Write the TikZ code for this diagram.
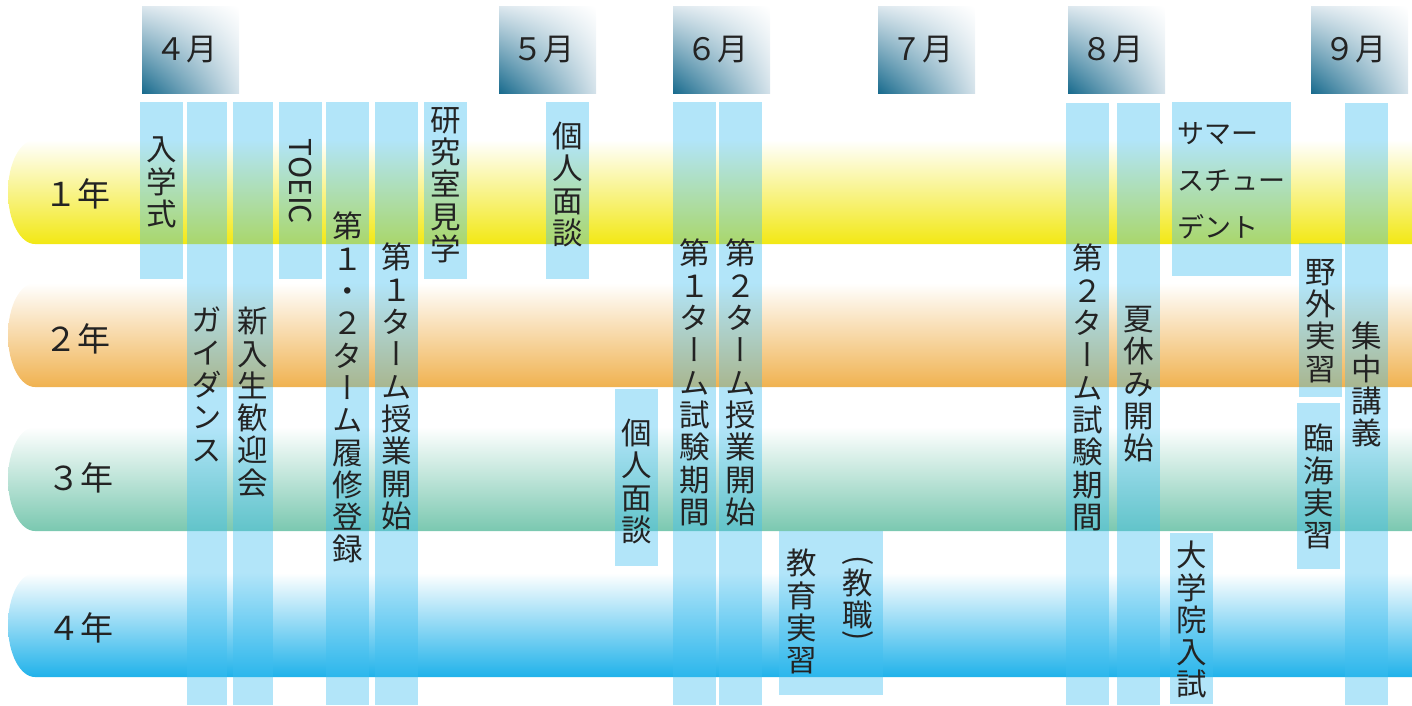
\documentclass[tikz,border=0pt]{standalone}
\usepackage{fontspec}
\usepackage{graphicx}
\usetikzlibrary{shadings}
\setmainfont{Noto Sans CJK JP}
\newfontfamily\vjp[RawFeature=+vert]{Noto Sans CJK JP}
\definecolor{txt}{RGB}{35,35,35}
\definecolor{barc}{RGB}{62,190,240}
\definecolor{yel}{RGB}{242,232,20}
\definecolor{org}{RGB}{240,178,80}
\definecolor{tea}{RGB}{122,200,176}
\definecolor{blu}{RGB}{32,178,234}
\definecolor{mdark}{RGB}{22,105,140}
\definecolor{mmidA}{RGB}{218,230,237}
\definecolor{mmidB}{RGB}{212,226,234}
\newcommand\rp[1]{\rotatebox[origin=c]{-90}{#1}}
\tikzset{
  bar/.style={fill=barc, fill opacity=0.4, draw=none},
  vt/.style={anchor=north, inner sep=0pt, align=center, text=txt,
    font=\vjp\fontsize{30.5}{32.3}\selectfont},
  ht/.style={anchor=north west, inner sep=0pt, align=left, text=txt,
    font=\fontsize{27}{47}\selectfont},
  month/.style={anchor=base, inner sep=0pt, text=txt, font=\fontsize{31}{31}\selectfont},
  year/.style={anchor=base, inner sep=0pt, text=txt, font=\fontsize{33}{33}\selectfont},
  mbox/.style={lower left=mdark, upper left=mmidA, lower right=mmidB, upper right=white},
}
\begin{document}
\begin{tikzpicture}[x=1pt,y=-1pt]
\useasboundingbox (0,0) rectangle (1412,706);
% month boxes
\foreach \x/\lab/\n in {142/４月/m4, 499/５月/m5, 673/６月/m6, 878/７月/m7, 1068/８月/m8, 1311/９月/m9}{
  \shade[mbox] (\x,7) rectangle ++(97,87);
  \node[month] (\n) at (\x+44.5,61) {\lab};
}
% year bands
\foreach \t/\c in {140/yel, 283/org, 427/tea, 573/blu}{
  \shade[top color=white, bottom color=\c] (1412,\t) -- (35,\t)
    arc[start angle=270, end angle=90, x radius=27, y radius=52] -- (1412,\t+104) -- cycle;
}
\node[year] (y1) at (77,206) {１年};
\node[year] (y2) at (77,351) {２年};
\node[year] (y3) at (80,490) {３年};
\node[year] (y4) at (80,640) {４年};
% event bars
\foreach \a/\b/\c/\d in {140/102/183/279, 187/102/227/705, 233/102/273/705, 279/102/322/279,
  326/102/369/705, 375/102/418/705, 424/102/467/279, 546/102/589/279, 673/102/716/705,
  719/102/762/705, 615/389/658/566, 779/531/883/695, 1066/103/1109/705, 1117/103/1160/705,
  1172/102/1291/276, 1345/103/1388/705, 1299/243/1342/397, 1297/403/1340/569, 1170/533/1213/704}{
  \fill[bar] (\a,\b) rectangle (\c,\d);
}
% event texts
\node[vt] (nyu) at (161.5,137) {入\\学\\式};
\node[vt] (guid) at (207,307) {ガ\\イ\\ダ\\ン\\ス};
\node[vt] (shin) at (253,307) {新\\入\\生\\歓\\迎\\会};
\node[inner sep=0pt, rotate=-90, text=txt, font=\fontsize{30}{30}\selectfont] (toeic) at (300.5,181.5) {TOEIC};
\node[vt] (rishu) at (347.5,212) {第\\１\\・\\２\\タ\\ー\\ム\\履\\修\\登\\録};
\node[vt] (t1s) at (396.5,243) {第\\１\\タ\\ー\\ム\\授\\業\\開\\始};
\node[vt] (ken) at (445.5,107) {研\\究\\室\\見\\学};
\node[vt] (men1) at (567.5,122) {個\\人\\面\\談};
\node[vt] (t1e) at (694.5,239) {第\\１\\タ\\ー\\ム\\試\\験\\期\\間};
\node[vt] (t2s) at (740.5,239) {第\\２\\タ\\ー\\ム\\授\\業\\開\\始};
\node[vt] (men2) at (636.5,419) {個\\人\\面\\談};
\node[vt] (kyo1) at (802,549) {教\\育\\実\\習};
\node[vt] (kyo2) at (858,555) {\rp{(}\\[-8pt]教\\職\\[-13.5pt]\rp{)}};
\node[vt] (t2e) at (1087.5,244) {第\\２\\タ\\ー\\ム\\試\\験\\期\\間};
\node[vt] (natsu) at (1138.5,306) {夏\\休\\み\\開\\始};
\node[ht] (summer) at (1177,122) {サマー\\スチュー\\デント};
\node[vt] (shuchu) at (1366.5,322) {集\\中\\講\\義};
\node[vt] (yagai) at (1320.5,259) {野\\外\\実\\習};
\node[vt] (rinkai) at (1318.5,424) {臨\\海\\実\\習};
\node[vt] (dai) at (1191.5,541) {大\\学\\院\\入\\試};
\end{tikzpicture}
\end{document}
